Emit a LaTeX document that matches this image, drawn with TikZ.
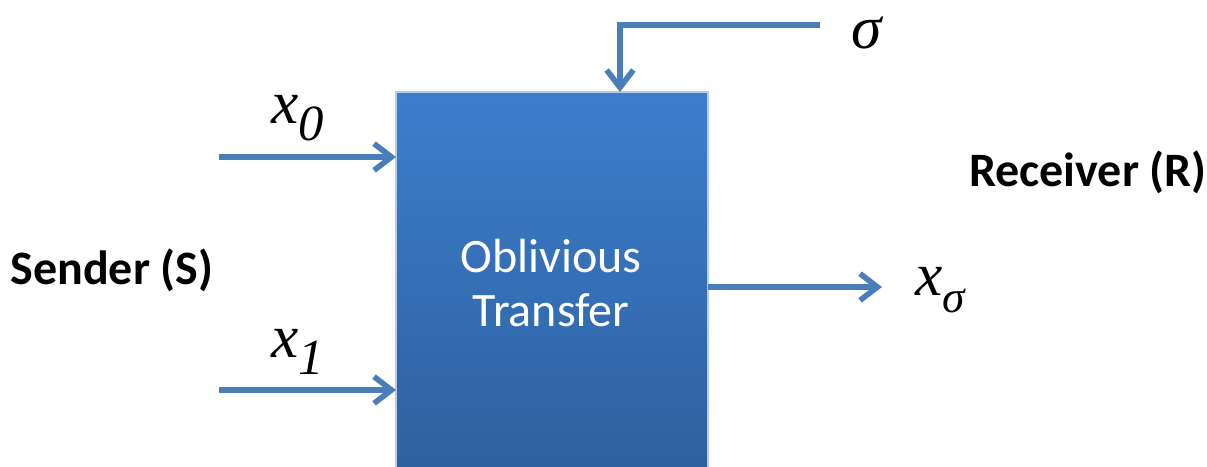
\documentclass[tikz,border=0pt]{standalone}
\usepackage{fontspec}
\setmainfont{Liberation Serif}
\newfontfamily\calib{Carlito}
\usetikzlibrary{arrows.meta}
\definecolor{wire}{HTML}{4A7EBB}
\definecolor{boxtop}{HTML}{3C7ECD}
\definecolor{boxbot}{HTML}{2D5E9B}
\tikzset{
  wirestyle/.style={draw=wire, line width=4.2pt},
  arr/.style={wirestyle, -{Straight Barb[length=13pt,width=20pt,line width=4.2pt]}},
  varlabel/.style={font=\fontsize{46}{50}\selectfont\itshape, inner sep=0pt},
  partylabel/.style={font=\calib\bfseries\fontsize{36}{40}\selectfont, inner sep=0pt},
}
\begin{document}
\begin{tikzpicture}[x=0.75pt,y=-0.75pt]
  \useasboundingbox (0,0) rectangle (1207,467);
  % the functionality box, running off the bottom edge
  \begin{scope}
    \clip (0,0) rectangle (1207,467);
    \shade[top color=boxtop, bottom color=boxbot] (396,92) rectangle (708,500);
    \draw[white!60!wire, line width=0.8pt] (396,92) rectangle (708,500);
  \end{scope}
  \node[font=\calib\fontsize{36}{41}\selectfont, text=white, align=center] (ot) at (551,283) {Oblivious\\Transfer};

  % sender inputs
  \coordinate (in0) at (219,157);
  \coordinate (in0e) at (396,157);
  \coordinate (in1) at (219,390);
  \coordinate (in1e) at (396,390);
  \draw[arr] (in0) -- (in0e);
  \draw[arr] (in1) -- (in1e);
  \node[varlabel] (x0) at (298,118) {x\raisebox{-0.28em}{\fontsize{38}{40}\selectfont 0}};
  \node[varlabel] (x1) at (298,352) {x\raisebox{-0.28em}{\fontsize{38}{40}\selectfont 1}};

  % receiver choice bit
  \coordinate (sigS) at (820,25);
  \coordinate (sigC) at (620,25);
  \coordinate (sigE) at (620,92);
  \draw[arr] (sigS) -- (sigC) -- (sigE);
  \node[varlabel, anchor=base, text height=0.45em, text depth=0pt] (sig) at (867,49) {σ};

  % output
  \coordinate (outS) at (708,287);
  \coordinate (outE) at (882,287);
  \draw[arr] (outS) -- (outE);
  \node[varlabel] (xs) at (940,290) {x\raisebox{-0.28em}{\fontsize{34}{36}\selectfont σ}};

  % parties
  \node[partylabel] (snd) at (112,270) {Sender (S)};
  \node[partylabel] (rcv) at (1088,172) {Receiver (R)};
\end{tikzpicture}
\end{document}
